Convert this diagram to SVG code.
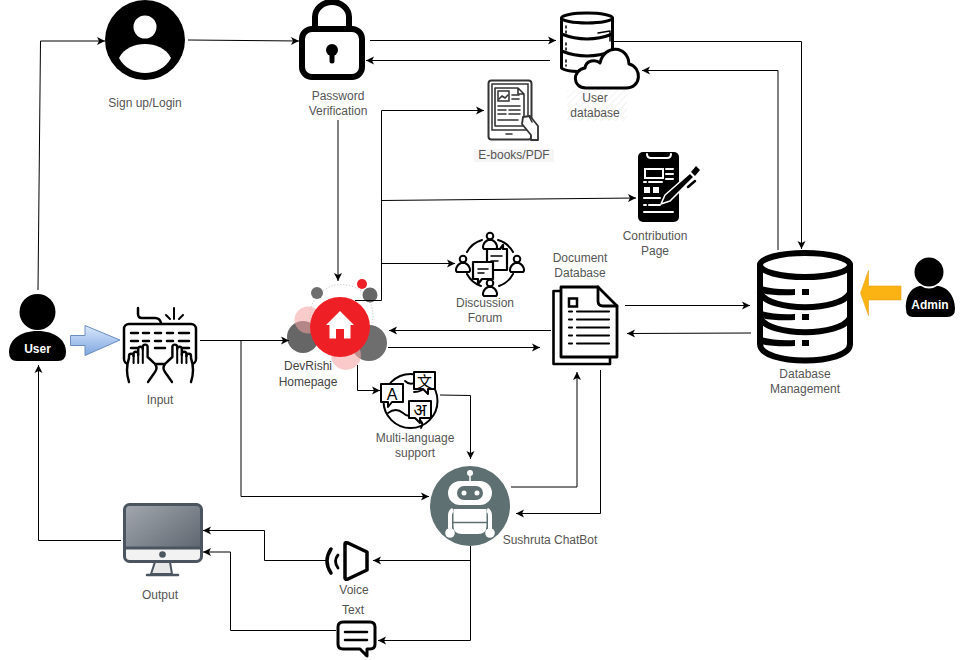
<svg xmlns="http://www.w3.org/2000/svg" width="960" height="660" viewBox="0 0 960 660">
<style>
text{font-family:"Liberation Sans",Arial,sans-serif;font-size:12px;fill:#555;text-anchor:middle}
text.w{fill:#fff;font-weight:bold}
.c{fill:none;stroke:#000;stroke-width:1;marker-end:url(#a)}
.k{fill:none;stroke:#000;stroke-linecap:round;stroke-linejoin:round}
.wf{fill:#fff;stroke:#000;stroke-linecap:round;stroke-linejoin:round}
.t{fill:none;stroke:#fff;stroke-linecap:round}
.e{fill:none;stroke:#333;stroke-width:1.6;stroke-linecap:round;stroke-linejoin:round}
</style>
<defs>
<marker id="a" markerUnits="userSpaceOnUse" markerWidth="9" markerHeight="9" refX="8" refY="4" orient="auto" overflow="visible"><path d="M0 0L8 4L0 8L2 4Z" fill="#000"/></marker>
<linearGradient id="blue" x1="0" y1="0" x2="0" y2="1"><stop offset="0" stop-color="#dae8fc"/><stop offset="1" stop-color="#7ea6e0"/></linearGradient>
<linearGradient id="scr" x1="0" y1="0" x2="1" y2="1"><stop offset="0" stop-color="#a3a8b0"/><stop offset="1" stop-color="#565d66"/></linearGradient>
<pattern id="h" width="5" height="5" patternUnits="userSpaceOnUse" patternTransform="rotate(-45)"><rect width="5" height="1" fill="#f2f2f2"/></pattern>
<g id="hand"><path class="wf" stroke-width="2.400" d="M129 382Q125 370 129 358V356a2.300 2.300 0 0 1 4.600 0V354a2.300 2.300 0 0 1 4.600 0V355V349a2.300 2.300 0 0 1 4.600 0V347a2.400 2.400 0 0 1 4.800 0V357Q151 360 155 364Q158 368 155 372L148 382"/><path class="k" stroke-width="2" d="M133.600 356V363M138.200 354V363M142.800 349V363"/></g>
<g id="person"><circle cy="-4" r="3.300" class="wf" stroke-width="2"/><path class="wf" stroke-width="2" d="M-2 0C-7 2-8 8-6 9H6C8 8 7 2 2 0Z"/></g>
</defs>
<rect width="960" height="660" fill="#fff"/>

<g id="signup"><circle cx="145" cy="40" r="40" fill="#000"/><circle cx="145" cy="27" r="11.500" fill="#fff"/><path d="M119 58C124 48 135 44 145 44S166 48 171 58C166 68 155 73 145 73S124 68 119 58Z" fill="#fff"/><text x="145" y="107">Sign up/Login</text></g>

<g id="password"><path class="k" stroke-width="6" d="M315 28V17a17 15 0 0 1 34 0V28"/><rect x="302" y="29" width="60" height="48" rx="10" fill="#fff" stroke="#000" stroke-width="6"/><circle cx="332" cy="50" r="6"/><path d="M332 50V61" stroke="#000" stroke-width="5" stroke-linecap="round"/><text x="338" y="100">Password</text><text x="338" y="115">Verification</text></g>

<g id="userdb"><rect x="567" y="90" width="60" height="31" fill="url(#h)"/><path class="wf" stroke-width="3" d="M561.500 18V68C566 73 608 73 612.500 68V18"/><ellipse cx="587" cy="18" rx="25.500" ry="5" class="wf" stroke-width="3"/><path class="k" stroke-width="3" d="M561.500 34Q587 44 612.500 34M561.500 51Q587 61 612.500 51"/><path class="k" stroke-width="1.500" stroke-dasharray="2 3" d="M566 26V33M566 43V50M566 60V66"/><path class="k" stroke-width="1.500" d="M598 33L610 31V41"/><path class="wf" stroke-width="3" d="M586 88C572 88 572 70 585 68C586 60 596 59 600 63C604 44 628 45 629 64C642 67 642 88 626 88Z"/><text x="595" y="102">User</text><text x="595" y="117">database</text></g>

<g id="ebooks"><rect x="474" y="149" width="80" height="13" fill="#f5f5f5"/><rect x="488.500" y="80.500" width="43" height="59" rx="3" fill="#fff" stroke="#333" stroke-width="2"/><rect x="492" y="84" width="36" height="46" fill="#fff" stroke="#333" stroke-width="1.500"/><path class="e" d="M495 88H518L524 94V126H495ZM518 88V94H524"/><rect x="498" y="91" width="11" height="10" fill="#fff" stroke="#333" stroke-width="1.500"/><path class="e" d="M499 99L502 96L505 98L508 95M512 95H519M512 99H519M498 106H520M498 110H506M509 110H520M498 114H506M509 114H520M498 120H518M506 134H512"/><path fill="#fff" stroke="#333" stroke-width="1.800" stroke-linejoin="round" stroke-linecap="round" d="M523 117L530 116L538 126V140H531V135L522 124Z"/><path class="e" d="M529 116L532 122"/><text x="514" y="159">E-books/PDF</text></g>

<g id="contribution"><rect x="638" y="152" width="41" height="70" rx="5" fill="#000"/><g class="t" stroke-width="2"><path d="M647 154Q647 158 651 158H667Q671 158 671 154"/><rect x="645" y="169" width="18" height="9" stroke-linecap="butt"/><path d="M666 169H673M666 174H673M666 179H673M644 182H646M649 182H662M644 212H673M644 205H646M649 205H660M644 198H660"/><rect x="644" y="187" width="6" height="6" fill="#fff" stroke="none"/><rect x="653" y="187" width="6" height="6" fill="#fff" stroke="none"/></g><path d="M661 204L665 195L690 173L694 177L670 201Z" fill="#000" stroke="#fff" stroke-width="1.600" stroke-linejoin="round"/><path d="M691 172L696 166L700 170L695 176Z" fill="#000"/><path d="M688 187L695 181" stroke="#000" stroke-width="2.500" stroke-linecap="round"/><text x="655" y="240">Contribution</text><text x="655" y="255">Page</text></g>

<g id="forum"><path class="k" stroke-width="2" d="M482 240A25 25 0 0 0 467 252M498 240A25 25 0 0 1 513 252M467 274A25 25 0 0 0 481 286M513 274A25 25 0 0 1 499 286"/><use href="#person" x="490" y="240"/><use href="#person" x="463" y="263"/><use href="#person" x="517" y="263"/><use href="#person" x="490" y="287"/><path class="wf" stroke-width="2.200" d="M487 249H500L503 245V249H507V270H487Z"/><path class="k" stroke-width="1.500" d="M491 256H502M491 261H498"/><path class="wf" stroke-width="2.200" d="M473 262H493V279H482L478 284V279H473Z"/><path class="k" stroke-width="1.500" d="M478 269H488M478 273H484"/><text x="485" y="307">Discussion</text><text x="485" y="322">Forum</text></g>

<g id="document"><path class="wf" stroke-width="2.600" d="M561 291H553.500V364H610V357"/><path class="wf" stroke-width="2.800" d="M561 287H598L617 306V357H561Z"/><path class="k" stroke-width="2.800" d="M598 287V301Q598 306 603 306H617"/><rect x="569" y="298.500" width="8" height="8" fill="none" stroke="#000" stroke-width="2.500"/><path class="k" stroke-width="2.200" d="M569 311.500H572M577 311.500H609M569 319.500H572M577 319.500H609M569 327.500H572M577 327.500H609M569 335.500H572M577 335.500H609M569 343.500H572M577 343.500H609"/><text x="580" y="262">Document</text><text x="580" y="277">Database</text></g>

<g id="dbmanagement"><path class="wf" stroke-width="6" d="M760 265V344C760 366 850 366 850 344V265"/><ellipse cx="805" cy="265" rx="45" ry="12" class="wf" stroke-width="6"/><path class="k" stroke-width="6" d="M760 293C770 312 840 312 850 293M760 318C770 337 840 337 850 318"/><path d="M761 286Q775 290 795 289V295Q775 296 761 293ZM761 311Q775 315 795 314V320Q775 321 761 318ZM761 337Q775 341 795 340V346Q775 347 761 344Z" fill="#000"/><rect x="802" y="289" width="7" height="6"/><rect x="802" y="314" width="7" height="6"/><rect x="802" y="340" width="7" height="6"/><text x="805" y="378">Database</text><text x="805" y="393">Management</text></g>

<g id="admin"><path d="M901 286H868.500V270.500L860.500 293L868.500 315.500V300H901Z" fill="#fbb314" stroke="#e8a317" stroke-width=".6"/><circle cx="929" cy="272" r="14.500"/><path d="M906 309C905 295 913 286 921 286Q929 291 937 286C946 286 955 295 955 309Q955 317 947 317H913Q906 317 906 309Z"/><text class="w" x="930" y="309">Admin</text></g>

<g id="user"><circle cx="37.500" cy="312" r="18"/><path d="M9 352C9 340 20 331 37.500 331S66 340 66 352Q66 361 58 361H17Q9 361 9 352Z"/><text class="w" x="37.500" y="353">User</text></g>

<path id="userinput" d="M70.500 335.500H85V325.500L120 340L85 355.500V345.500H70.500Z" fill="url(#blue)" stroke="#6c8ebf"/>

<g id="input"><path class="k" stroke-width="2.500" d="M138 308V314Q138 318 142 318H155Q160 318 161 323"/><path class="k" stroke-width="2" d="M174 308V319M166 315L170 319M183 315L179 319"/><rect x="124" y="324" width="72" height="40" rx="5" fill="#fff" stroke="#000" stroke-width="2.500"/><path class="k" stroke-width="2.500" d="M131 333H138M143 333H149M155 333H161M167 333H173M179 333H189M131 341H138M143 341H149M155 341H161M167 341H173M179 341H189M131 348H138M155 348H165M180 348H189"/><use href="#hand"/><use href="#hand" transform="translate(320 0) scale(-1 1)"/><text x="160" y="404">Input</text></g>

<g id="homepage"><circle cx="341.500" cy="316" r="31.500" fill="none" stroke="#bbb" stroke-width="1" stroke-dasharray="1 2"/><circle cx="303" cy="337" r="16" fill="#666"/><circle cx="369" cy="343" r="18" fill="#6e6e6e"/><circle cx="308" cy="320" r="13.500" fill="#f5a0a0" fill-opacity=".55"/><circle cx="346" cy="355" r="15" fill="#f7a6a6" fill-opacity=".6"/><circle cx="317" cy="293" r="6" fill="#6e6e6e"/><circle cx="370" cy="295" r="7.500" fill="#666"/><circle cx="362" cy="284" r="5" fill="#ee2026"/><circle cx="340" cy="327" r="30" fill="#ee2026"/><path d="M340 311L326 325H329.500V338.500H336V329H344V338.500H350.500V325H354Z" fill="#fff"/><text x="308" y="370" style="fill:#444">DevRishi</text><text x="308" y="386" style="fill:#444">Homepage</text></g>

<g id="multilang"><circle cx="410.500" cy="401" r="27" fill="#fff" stroke="#000" stroke-width="2"/><path class="k" stroke-width="1.800" d="M388 413Q396 407 403 413T412 412M414 392Q422 392 427 386M420 420Q424 424 421 428M405 381Q410 386 416 382"/><path class="wf" stroke-width="2" d="M381 384H403V402H392L388 407V402H381Z"/><path class="wf" stroke-width="2" d="M414 372H435V389H428V394L423 389H414Z"/><path class="wf" stroke-width="2" d="M409 401H431V418H420V423L415 418H409Z"/><text x="392" y="400" style="font-size:16px;fill:#000">A</text><text x="424.500" y="386.500" style="font-family:'Noto Sans CJK SC',sans-serif;font-size:15px;fill:#000">文</text><text x="420" y="416" style="font-family:'Noto Sans','Noto Sans CJK SC',sans-serif;font-size:17px;fill:#000">अ</text><text x="415" y="442">Multi-language</text><text x="415" y="457">support</text></g>

<g id="chatbot"><circle cx="470" cy="506" r="40" fill="#5f7072"/><path d="M470 474V482" stroke="#fff" stroke-width="1.500"/><circle cx="470" cy="473" r="3" fill="#fff"/><rect x="448" y="481" width="44" height="24" rx="12" fill="#fff"/><rect x="457" y="486" width="26" height="14" rx="7" fill="#5f7072"/><circle cx="464" cy="493" r="2.500" fill="#fff"/><circle cx="477" cy="493" r="2.500" fill="#fff"/><path d="M453.500 509H486.500V526Q486.500 534 478 534H462Q453.500 534 453.500 526Z" fill="#fff"/><path d="M453 522.500H487" stroke="#5f7072" stroke-width="1.300"/><path d="M450 531V516Q450 511 453 510M490 531V516Q490 511 487 510" fill="none" stroke="#fff" stroke-width="4"/><circle cx="450" cy="533" r="4.800" fill="#fff"/><circle cx="490" cy="533" r="4.800" fill="#fff"/><text x="550" y="544">Sushruta ChatBot</text></g>

<g id="output"><rect x="124.500" y="504.500" width="77" height="57" rx="5" fill="url(#scr)" stroke="#4a555f" stroke-width="3"/><path d="M126 549H200V556Q200 560 196 560H130Q126 560 126 556Z" fill="#f2f2f2"/><path d="M125 548H201" stroke="#4a555f" stroke-width="3"/><circle cx="162.500" cy="554.500" r="3.300" fill="#4a555f"/><path d="M155 562H170L172 574H151Z" fill="#e8e8e8" stroke="#4a555f" stroke-width="2"/><path d="M147 575H178" stroke="#4a555f" stroke-width="2.500" stroke-linecap="round"/><text x="160" y="599">Output</text></g>

<g id="voice"><path class="wf" stroke-width="3.500" d="M345 544Q345 542 348 543L367 552V570L348 579Q345 580 345 578Z"/><path class="k" stroke-width="3.500" d="M331 549Q323 561 331 573"/><path class="k" stroke-width="2.800" d="M338 555Q333 561 338 568"/><text x="354" y="594">Voice</text></g>

<g id="textnode"><path class="wf" stroke-width="3" d="M343 622H370Q375 622 375 627V644Q375 649 370 649H367V656L360 649H343Q338 649 338 644V627Q338 622 343 622Z"/><path class="k" stroke-width="2.500" d="M345 632H367M345 640H367"/><text x="353" y="614">Text</text></g>

<g id="connectors">
<path class="c" d="M38 290L40.500 41H105"/>
<path class="c" d="M188 40L299 41"/>
<path class="c" d="M370 40.500H556"/>
<path class="c" d="M550 60.500H366"/>
<path class="c" d="M338 120V281"/>
<path class="c" d="M355 300.500H381.500V110.500H484"/>
<path class="c" d="M381 200.500L636 198"/>
<path class="c" d="M381 263.500H455"/>
<path class="c" d="M614 41.500H801.500V249"/>
<path class="c" d="M778 250V70.500H642"/>
<path class="c" d="M625 305.500H750"/>
<path class="c" d="M751 333L627 333.500"/>
<path class="c" d="M551 330.500H389"/>
<path class="c" d="M388 347.500H540"/>
<path class="c" d="M200 340.500H289"/>
<path class="c" d="M241 340.500V496.500H429"/>
<path class="c" d="M357.500 365V390.500H380"/>
<path class="c" d="M440 395L470.500 395.500V459"/>
<path class="c" d="M511 487L577 487V372"/>
<path class="c" d="M600.500 370V513.500H516"/>
<path class="c" d="M470.500 546V560.500H373"/>
<path class="c" d="M470.500 560V640.500H378"/>
<path class="c" d="M327 560.500H264.500V530.500H203"/>
<path class="c" d="M336 630.500H230.500V552H203"/>
<path class="c" d="M121 540.500H38.500V365"/>
</g>
</svg>
